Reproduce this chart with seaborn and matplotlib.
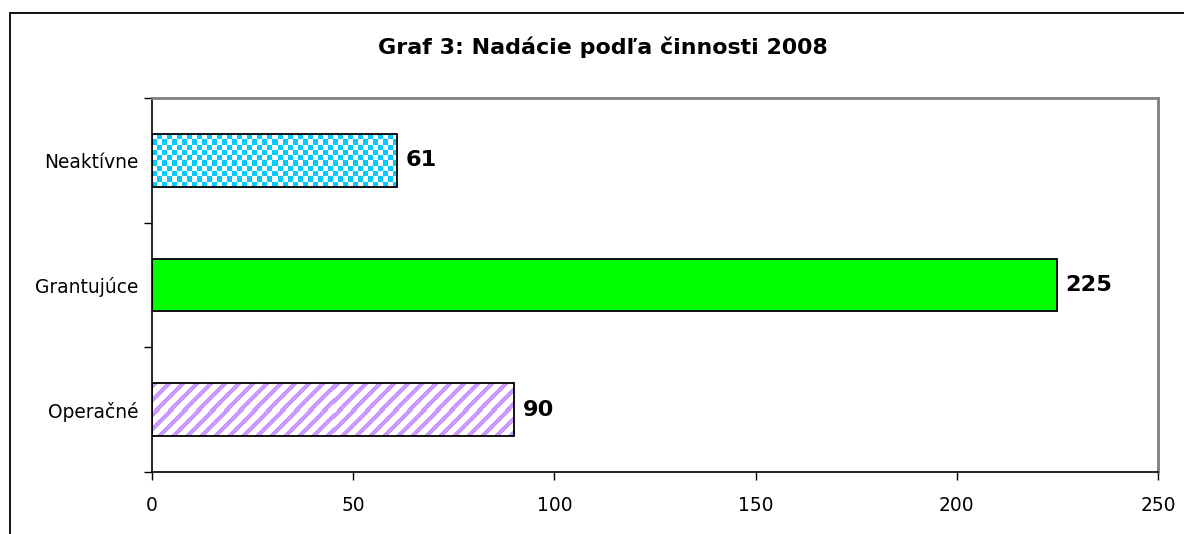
import numpy as np
import pandas as pd
import matplotlib
matplotlib.use("Agg")
import matplotlib.pyplot as plt
from matplotlib.colors import ListedColormap
from matplotlib.patches import Rectangle
import seaborn as sns

# ---- data ----
categories = ["Neaktívne", "Grantujúce", "Operačné"]
values = [61, 225, 90]
title = "Graf 3: Nadácie podľa činnosti 2008"
x_ticks = [0, 50, 100, 150, 200, 250]

sns.set_theme(style="white")
plt.rcParams["font.family"] = ["DejaVu Sans"]

W, H = 1184, 534
fig = plt.figure(figsize=(W / 100, H / 100), dpi=100)
ax = fig.add_axes([152 / W, 1 - 472 / H, (1158 - 152) / W, (472 - 98) / H])

df = pd.DataFrame({"cat": categories, "val": values})
sns.barplot(data=df, x="val", y="cat", orient="h", ax=ax, width=0.42,
            color="white", edgecolor="black", linewidth=1.3, saturation=1)

green = "#00FF00"
cyan = "#00CCFF"
lav = "#CC99FF"

p_neak, p_grant, p_oper = ax.patches[0], ax.patches[1], ax.patches[2]
p_grant.set_facecolor(green)

ax.set_xlim(0, 250)
ax.set_ylim(2.5, -0.5)
ax.set_xticks(x_ticks)
ax.set_xlabel("")
ax.set_ylabel("")


def pattern_fill(patch, kind, colors):
    """Fill a bar patch with a pixel pattern image clipped to it."""
    fig.canvas.draw()
    bx0, by0 = patch.get_x(), patch.get_y()
    bw, bh = patch.get_width(), patch.get_height()
    ext = patch.get_window_extent()
    if kind == "checker":
        cell = 5
        nx = max(1, int(round(ext.width / cell)))
        ny = max(1, int(round(ext.height / cell)))
        img = np.indices((ny, nx)).sum(axis=0) % 2
    else:
        period, stripe = 14, 6
        nx = max(1, int(round(ext.width)))
        ny = max(1, int(round(ext.height)))
        img = ((np.indices((ny, nx)).sum(axis=0) % period) < stripe).astype(int)
    im = ax.imshow(img, extent=[bx0, bx0 + bw, by0 + bh, by0],
                   cmap=ListedColormap(colors), interpolation="nearest",
                   aspect="auto", zorder=patch.get_zorder() + 0.1)
    im.set_clip_path(patch)
    patch.set_facecolor("none")
    patch.set_zorder(patch.get_zorder() + 0.2)
    ax.set_xlim(0, 250)
    ax.set_ylim(2.5, -0.5)


pattern_fill(p_neak, "checker", ["white", cyan])
pattern_fill(p_oper, "stripes", ["white", lav])

# y ticks at category boundaries
ax.set_yticks([-0.5, 0.5, 1.5, 2.5], minor=True)
ax.tick_params(axis="y", which="major", length=0, pad=10, labelsize=13.4, colors="black")
ax.tick_params(axis="y", which="minor", length=6, width=1, color="black", direction="out", left=True)
ax.tick_params(axis="x", which="major", length=6, width=1, color="black", direction="out",
               bottom=True, pad=11, labelsize=13.4, labelcolor="black")

for s in ["left", "bottom"]:
    ax.spines[s].set_color("black")
    ax.spines[s].set_linewidth(1.2)
for s in ["top", "right"]:
    ax.spines[s].set_color("#808080")
    ax.spines[s].set_linewidth(2)

# value labels
for p, v in zip([p_neak, p_grant, p_oper], values):
    ax.annotate(f"{v}", xy=(p.get_x() + p.get_width(), p.get_y() + p.get_height() / 2),
                xytext=(6, 0), textcoords="offset points", ha="left", va="center",
                fontsize=16.2, fontweight="bold", color="black")

fig.text(603 / W, 1 - 47 / H, title, ha="center", va="center",
         fontsize=15.9, fontweight="bold", color="black")

# outer chart frame
fig.patches.append(Rectangle((9.5 / W, -0.2), 2, 1.2 - 12.5 / H, transform=fig.transFigure,
                             fill=False, edgecolor="black", linewidth=1.3))

fig.savefig("out.png", dpi=100)
